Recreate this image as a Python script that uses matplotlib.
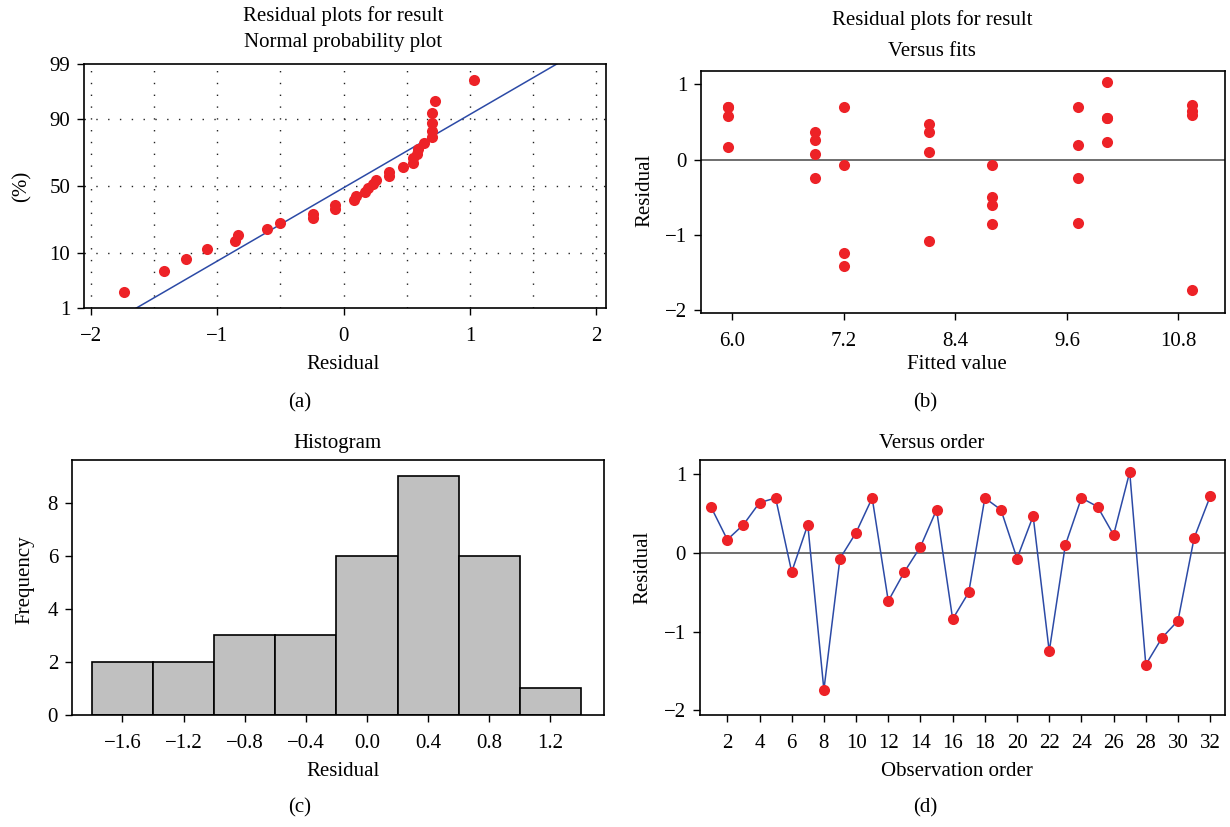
from statistics import NormalDist

import matplotlib
matplotlib.use("Agg")
import matplotlib.pyplot as plt
import numpy as np

plt.rcParams['font.family'] = ['Liberation Serif', 'DejaVu Serif']
plt.rcParams['font.size'] = 15

# residuals in observation order
residuals = [0.58, 0.17, 0.36, 0.64, 0.70, -0.24, 0.36, -1.74,
             -0.07, 0.26, 0.70, -0.61, -0.24, 0.08, 0.55, -0.84,
             -0.50, 0.70, 0.55, -0.07, 0.47, -1.25, 0.10, 0.70,
             0.59, 0.23, 1.03, -1.42, -1.08, -0.86, 0.19, 0.72]
# fitted values for the same observations
fitted = [5.96, 5.96, 6.89, 10.95, 5.96, 6.89, 8.12, 10.95,
          7.20, 6.89, 5.96, 8.79, 9.72, 6.89, 10.03, 9.72,
          8.79, 7.20, 10.03, 8.79, 8.12, 7.20, 8.12, 9.72,
          10.95, 10.03, 10.03, 7.20, 8.12, 8.79, 9.72, 10.95]
order = list(range(1, 33))

hist_edges = [-1.8, -1.4, -1.0, -0.6, -0.2, 0.2, 0.6, 1.0, 1.4]
hist_ticks = [-1.6, -1.2, -0.8, -0.4, 0.0, 0.4, 0.8, 1.2]
pct_ticks = [1, 10, 50, 90, 99]
fit_ticks = [6.0, 7.2, 8.4, 9.6, 10.8]

RED = '#ed2227'
BLUE = '#2c4aa6'
W, H = 1230, 827

fig = plt.figure(figsize=(W / 100, H / 100), dpi=100)


def px_axes(left, top, right, bottom):
    return fig.add_axes([left / W, 1 - bottom / H, (right - left) / W, (bottom - top) / H])


def px_text(x, y, s, **kw):
    fig.text(x / W, 1 - y / H, s, ha='center', va='center', **kw)


def fmt1(v):
    return ('%.1f' % v).replace('-', '\u2212')


def style(ax):
    for sp in ax.spines.values():
        sp.set_linewidth(1.2)
        sp.set_color('black')
    ax.tick_params(direction='out', length=5, width=1)
    ax.tick_params(axis='x', pad=9)
    ax.tick_params(axis='y', pad=5)


nd = NormalDist()
res = np.array(residuals)

# (a) normal probability plot
ax = px_axes(84, 64, 606, 308)
srt = np.sort(res)
n = len(srt)
pos = [(i - 0.3) / (n + 0.4) for i in range(1, n + 1)]
z = np.array([nd.inv_cdf(p) for p in pos])
zlo, zhi = nd.inv_cdf(0.01), nd.inv_cdf(0.99)
for gx in np.arange(-2, 2.01, 0.5):
    ax.axvline(gx, color='#222222', lw=1, dashes=(1, 7.5), zorder=0)
for p in (10, 50, 90):
    ax.axhline(nd.inv_cdf(p / 100), color='#222222', lw=1, dashes=(1, 7.5), zorder=0)
mu, sd = res.mean(), res.std(ddof=1)
zz = np.array([zlo - 0.1, zhi + 0.1])
ax.plot(mu + sd * zz, zz, color=BLUE, lw=1.1, zorder=2)
ax.plot(srt, z, 'o', color=RED, ms=8, mec='none', zorder=3)
ax.set_xlim(-2.056, 2.078)
ax.set_ylim(zlo, zhi)
ax.set_xticks([-2, -1, 0, 1, 2])
ax.set_yticks([nd.inv_cdf(p / 100) for p in pct_ticks])
ax.set_yticklabels([str(p) for p in pct_ticks])
style(ax)
px_text(343, 16, 'Residual plots for result')
px_text(343, 43, 'Normal probability plot')
px_text(343, 364, 'Residual')
px_text(22, 186, '(%)', rotation=90)
px_text(300, 403, '(a)')

# (b) versus fits
ax = px_axes(701, 71, 1225, 313)
ax.axhline(0, color='#555555', lw=1.2, zorder=1)
ax.plot(fitted, residuals, 'o', color=RED, ms=8, mec='none', zorder=3)
ax.set_xlim(5.666, 11.30)
ax.set_ylim(-2.042, 1.178)
ax.set_xticks(fit_ticks)
ax.set_xticklabels([fmt1(t) for t in fit_ticks])
ax.set_yticks([-2, -1, 0, 1])
style(ax)
px_text(932, 20, 'Residual plots for result')
px_text(932, 52, 'Versus fits')
px_text(957, 364, 'Fitted value')
px_text(645, 190, 'Residual', rotation=90)
px_text(925, 403, '(b)')

# (c) histogram
ax = px_axes(72, 460, 604, 715)
ax.hist(res, bins=hist_edges, color='#c0c0c0', edgecolor='black', linewidth=1.2)
ax.set_xlim(-1.93, 1.55)
ax.set_ylim(0, 9.6)
ax.set_xticks(hist_ticks)
ax.set_xticklabels([fmt1(t) for t in hist_ticks])
ax.set_yticks([0, 2, 4, 6, 8])
style(ax)
px_text(337, 443, 'Histogram')
px_text(343, 771, 'Residual')
px_text(25, 580, 'Frequency', rotation=90)
px_text(300, 808, '(c)')

# (d) versus order
ax = px_axes(700, 460, 1225, 715)
ax.axhline(0, color='#555555', lw=1.2, zorder=1)
ax.plot(order, residuals, '-', color=BLUE, lw=1.1, zorder=2)
ax.plot(order, residuals, 'o', color=RED, ms=8, mec='none', zorder=3)
ax.set_xlim(0.303, 32.92)
ax.set_ylim(-2.06, 1.183)
ax.set_xticks(range(2, 33, 2))
ax.set_yticks([-2, -1, 0, 1])
style(ax)
px_text(932, 443, 'Versus order')
px_text(957, 771, 'Observation order')
px_text(643, 567, 'Residual', rotation=90)
px_text(925, 808, '(d)')

fig.savefig('out.png', dpi=100)
